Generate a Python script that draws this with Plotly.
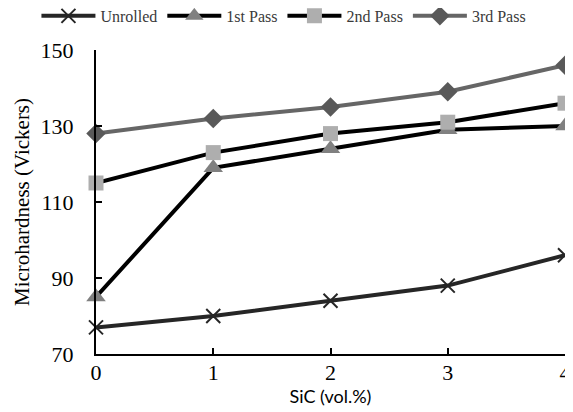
import plotly.graph_objects as go

sic = [0, 1, 2, 3, 4]
unrolled = [77, 80, 84, 88, 96]
pass1 = [85, 119, 124, 129, 130]
pass2 = [115, 123, 128, 131, 136]
pass3 = [128, 132, 135, 139, 146]
y_ticks = [70, 90, 110, 130, 150]

series = [
    ("Unrolled", unrolled, "#262626", "x-thin", "#262626", 14),
    ("1st Pass", pass1, "#000000", "triangle-up", "#808080", 17),
    ("2nd Pass", pass2, "#000000", "square", "#AEAEAE", 15),
    ("3rd Pass", pass3, "#666666", "diamond", "#595959", 15),
]

fig = go.Figure()
for name, vals, lc, sym, mc, ms in series:
    fig.add_trace(go.Scatter(
        x=sic, y=vals, name=name, mode="lines+markers",
        line=dict(color=lc, width=4),
        marker=dict(symbol=sym, color=mc, size=ms,
                    line=dict(color=mc, width=2 if sym == "x-thin" else 0)),
        cliponaxis=False,
    ))

serif = "Liberation Serif"
# page body has an 8px margin, so the figure is drawn 8px right and down
fig.update_layout(
    width=565, height=404,
    margin=dict(l=88, r=8, t=42, b=58, autoexpand=False),
    paper_bgcolor="white", plot_bgcolor="white",
    font=dict(family=serif, color="#000000", size=22),
    showlegend=True,
    legend=dict(orientation="h", x=-0.127, y=1.112, xanchor="left", yanchor="middle",
                font=dict(family=serif, size=16, color="#3a3a3a"),
                itemwidth=54, tracegroupgap=0),
    xaxis=dict(range=[0, 4], tickvals=sic, ticks="inside", ticklen=6,
               tickwidth=1.5, tickcolor="black", showline=True,
               linecolor="black", linewidth=2, showgrid=False, zeroline=False,
               ticklabelstandoff=-2,
               tickfont=dict(family=serif, size=22),
               title=dict(text="SiC (vol.%)", font=dict(family="Lato", size=18),
                          standoff=2)),
    yaxis=dict(range=[70, 150], tickvals=y_ticks, ticks="inside", ticklen=6,
               tickwidth=1.5, tickcolor="black", showline=True,
               linecolor="black", linewidth=2, showgrid=False, zeroline=False,
               ticklabelstandoff=16,
               tickfont=dict(family=serif, size=22),
               title=dict(text="Microhardness (Vickers)",
                          font=dict(family=serif, size=21), standoff=5)),
)

fig.write_html("out.html")
